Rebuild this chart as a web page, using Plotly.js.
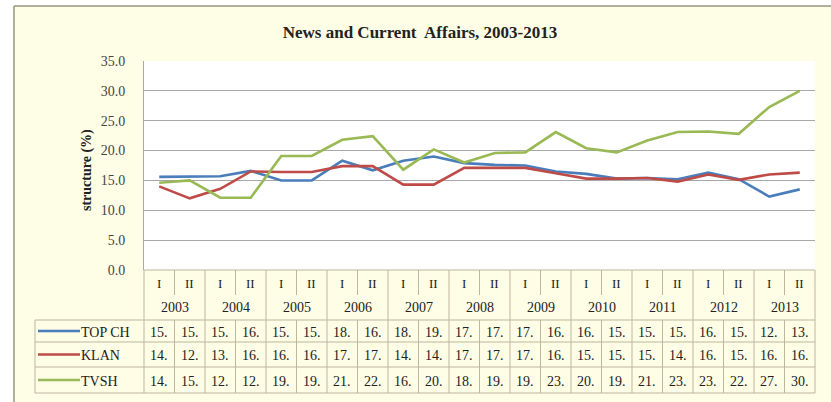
<!DOCTYPE html>
<html>
<head>
<meta charset="utf-8">
<script src="https://cdn.plot.ly/plotly-3.0.1.min.js"></script>
<style>html,body{margin:0;padding:0;background:#fff;}#chart{width:831px;height:402px;}</style>
</head>
<body>
<div id="chart"></div>
<script>
// ---- data ----
const years = ["2003","2004","2005","2006","2007","2008","2009","2010","2011","2012","2013"];
const halves = ["I","II"];
const seriesNames = ["TOP CH","KLAN","TVSH"];
const topch = [15.6,15.6,15.7,16.6,15.0,15.0,18.3,16.7,18.3,19.0,17.9,17.6,17.5,16.5,16.1,15.3,15.4,15.2,16.3,15.2,12.3,13.5];
const klan  = [14.0,12.0,13.6,16.5,16.4,16.4,17.4,17.4,14.3,14.3,17.1,17.1,17.1,16.2,15.3,15.3,15.4,14.8,16.0,15.1,16.0,16.3];
const tvsh  = [14.6,15.0,12.1,12.1,19.1,19.1,21.8,22.4,16.8,20.2,18.0,19.6,19.7,23.1,20.4,19.7,21.7,23.1,23.2,22.8,27.3,30.0];
const yTicks = [0,5,10,15,20,25,30,35];

// ---- styling / layout ----
const colors = ["#4A7EBB","#BE4B48","#98B954"];
const serif = "Liberation Serif, Times New Roman, serif";
const W = 831, H = 402;
const L = 144, R = 815, T = 61, B = 270;
const X = px => (px - L) / (R - L);
const Y = py => (B - py) / (B - T);
const gridC = "#A8A8A8";
const tblC = "#BDB79C";

const n = years.length * halves.length;
const xs = Array.from({length: n}, (_, i) => i);
const halfLabels = xs.map(i => halves[i % 2]);
const allSeries = [topch, klan, tvsh];

const traces = allSeries.map((s, k) => ({
  type: "scatter", mode: "lines", x: xs, y: s, name: seriesNames[k],
  line: {color: colors[k], width: 2.6}, hoverinfo: "skip"
}));

const shapes = [];
const annotations = [];
function hline(py, x0, x1, c) {
  shapes.push({type: "line", xref: "paper", yref: "paper", x0: x0, x1: x1, y0: Y(py), y1: Y(py), line: {color: c || tblC, width: 1}});
}
function vlineData(xv, py0, py1) {
  shapes.push({type: "line", xref: "x", yref: "paper", x0: xv, x1: xv, y0: Y(py0), y1: Y(py1), line: {color: tblC, width: 1}});
}
function vlinePaper(xp, py0, py1) {
  shapes.push({type: "line", xref: "paper", yref: "paper", x0: xp, x1: xp, y0: Y(py0), y1: Y(py1), line: {color: tblC, width: 1}});
}
function ann(o) {
  annotations.push(Object.assign({showarrow: false, xanchor: "center", yanchor: "middle"}, o));
}

// table rows (pixel rows)
const rowTop = 270, halfBot = 295, yearBot = 320;
const dataRows = [[320,342],[342,367],[367,393]];
hline(rowTop, 0, 1, tblC);
dataRows.forEach(r => hline(r[0], X(35), 1));
hline(393, X(35), 1);
vlinePaper(X(35), 320, 393);
vlinePaper(0, 270, 393);
vlinePaper(1, 270, 393);
for (let i = 0; i < n - 1; i++) {
  if (i % 2 === 0) { vlineData(i + 0.5, rowTop, halfBot); vlineData(i + 0.5, yearBot, 393); }
  else { vlineData(i + 0.5, rowTop, 393); }
}

const tfont = {family: serif, size: 14, color: "#222"};
xs.forEach(i => ann({xref: "x", yref: "paper", x: i, y: Y(283), text: halfLabels[i], font: {family: serif, size: 13, color: "#222"}}));
years.forEach((yr, k) => ann({xref: "x", yref: "paper", x: 2 * k + 0.5, y: Y(307.5), text: yr, font: {family: serif, size: 14, color: "#222"}}));
allSeries.forEach((s, k) => {
  const cy = (dataRows[k][0] + dataRows[k][1]) / 2 + 1;
  s.forEach((v, i) => ann({xref: "x", yref: "paper", x: i, y: Y(cy), text: Math.floor(v) + ".", font: tfont}));
  shapes.push({type: "line", xref: "paper", yref: "paper", x0: X(38), x1: X(80), y0: Y(cy - 1), y1: Y(cy - 1), line: {color: colors[k], width: 2.6}});
  ann({xref: "paper", yref: "paper", x: X(79), y: Y(cy), xanchor: "left", text: seriesNames[k], font: tfont});
});

// frame
shapes.push({type: "rect", xref: "paper", yref: "paper", x0: X(-5), x1: X(14), y0: Y(-5), y1: Y(410), fillcolor: "#ffffff", line: {width: 0}});
shapes.push({type: "rect", xref: "paper", yref: "paper", x0: X(-5), x1: X(840), y0: Y(-5), y1: Y(6), fillcolor: "#ffffff", line: {width: 0}});
shapes.push({type: "line", xref: "paper", yref: "paper", x0: X(14), x1: X(840), y0: Y(6), y1: Y(6), line: {color: "#9A957E", width: 1.5}});
shapes.push({type: "line", xref: "paper", yref: "paper", x0: X(14), x1: X(14), y0: Y(6), y1: Y(410), line: {color: "#9A957E", width: 1.5}});

// y axis title
ann({xref: "paper", yref: "paper", x: X(87), y: Y(170), text: "<b>structure (%)</b>", textangle: -90, font: {family: serif, size: 14, color: "#222"}});

const layout = {
  width: W, height: H,
  margin: {l: L, r: W - R, t: T, b: H - B, pad: 0},
  paper_bgcolor: "#FEFDE6",
  plot_bgcolor: "#ffffff",
  showlegend: false,
  title: {text: "<b>News and Current\u00a0 Affairs, 2003-2013</b>", xref: "container", yref: "container", x: 420 / W, y: 1 - 32 / H, xanchor: "center", yanchor: "middle", font: {family: serif, size: 17, color: "#222"}},
  xaxis: {range: [-0.5, n - 0.5], showticklabels: false, showgrid: false, zeroline: false, showline: false, ticks: "", fixedrange: true},
  yaxis: {range: [0, 35], tickvals: yTicks, ticktext: yTicks.map(v => v.toFixed(1)), showgrid: true, gridcolor: gridC, gridwidth: 1, zeroline: false, showline: true, linecolor: gridC, ticks: "", ticklabelstandoff: 15, tickfont: {family: serif, size: 14, color: "#444"}, fixedrange: true},
  shapes: shapes,
  annotations: annotations
};
Plotly.newPlot("chart", traces, layout, {displayModeBar: false, staticPlot: true});
</script>
</body>
</html>
